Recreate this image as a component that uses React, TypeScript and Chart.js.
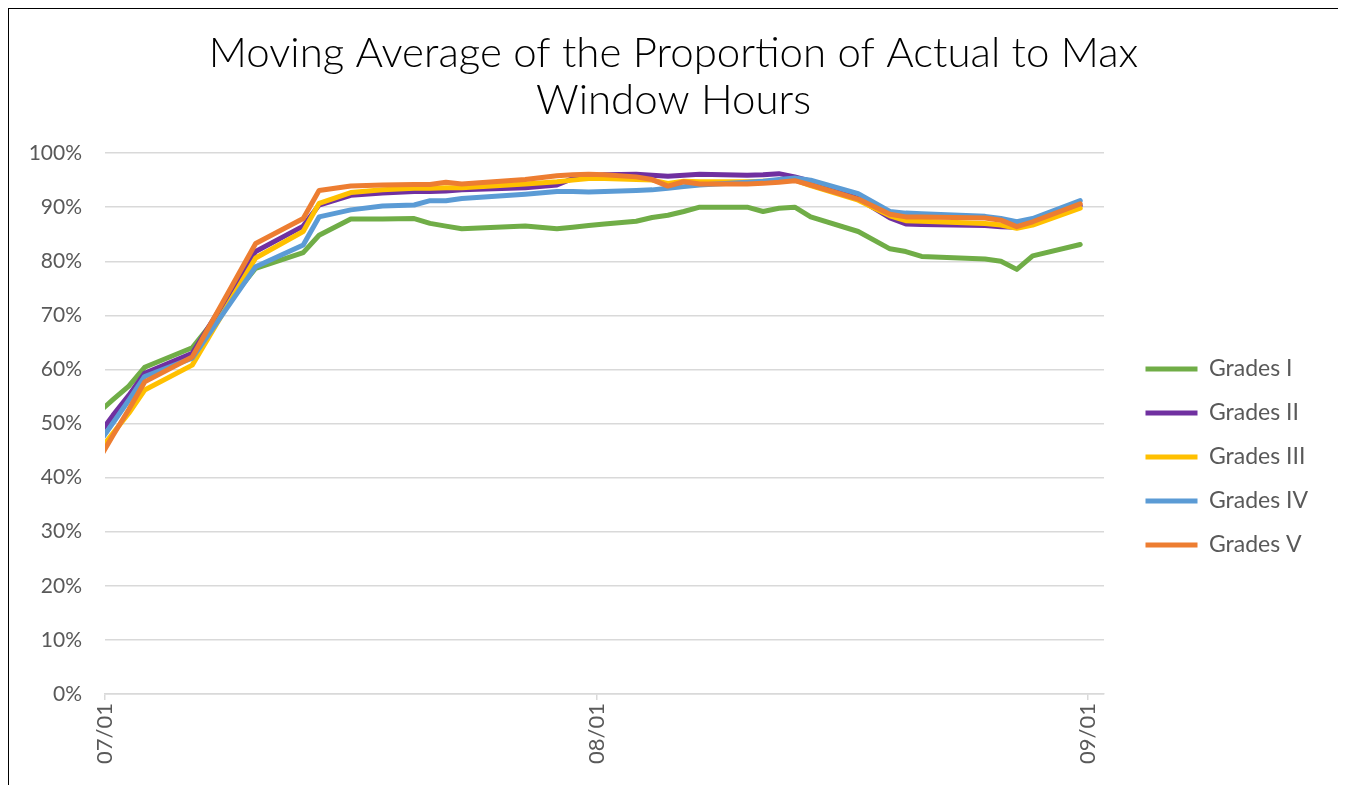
import React, { useEffect, useRef } from "react";
import { Chart, registerables } from "chart.js";

Chart.register(...registerables);

const titleLines = ["Moving Average of the Proportion of Actual to Max", "Window Hours"];
const tickLabels = ["07/01", "08/01", "09/01"];
const seriesNames = ["Grades I", "Grades II", "Grades III", "Grades IV", "Grades V"];
const seriesColors = ["#70AD47", "#7030A0", "#FFC000", "#5B9BD5", "#ED7D31"];

const dates = [
  "06/30", "07/01", "07/02", "07/03", "07/06", "07/10", "07/13", "07/14", "07/16", "07/18",
  "07/20", "07/21", "07/22", "07/23", "07/27", "07/29", "07/30", "07/31", "08/01", "08/03",
  "08/04", "08/05", "08/06", "08/07", "08/10", "08/11", "08/12", "08/13", "08/14", "08/17",
  "08/19", "08/20", "08/21", "08/25", "08/26", "08/27", "08/28", "08/31",
];

const gradesI = [
  51.8, 54.4, 56.9, 60.4, 64.0, 78.7, 81.6, 84.8, 87.8, 87.8,
  87.9, 87.0, 86.5, 86.0, 86.5, 86.0, 86.3, 86.6, 86.9, 87.4,
  88.1, 88.5, 89.2, 90.0, 90.0, 89.2, 89.8, 90.0, 88.2, 85.5,
  82.3, 81.8, 80.9, 80.4, 80.0, 78.5, 81.0, 83.1,
];
const gradesII = [
  47.5, 51.5, 55.2, 59.3, 63.0, 81.8, 86.5, 90.4, 92.2, 92.6,
  92.9, 92.9, 93.0, 93.2, 93.6, 94.1, 95.3, 95.7, 96.0, 96.1,
  95.9, 95.7, 95.9, 96.1, 95.9, 96.0, 96.2, 95.6, 94.8, 91.6,
  88.0, 86.9, 86.8, 86.6, 86.4, 86.3, 86.9, 90.3,
];
const gradesIII = [
  44.4, 48.2, 51.9, 56.2, 60.8, 80.6, 85.5, 90.7, 92.7, 93.2,
  93.5, 93.5, 93.6, 93.6, 94.3, 94.7, 95.0, 95.3, 95.3, 95.1,
  95.0, 94.4, 94.8, 94.7, 94.7, 94.8, 94.9, 95.0, 94.0, 91.3,
  88.4, 87.5, 87.4, 87.0, 86.7, 86.1, 86.7, 89.8,
];
const gradesIV = [
  45.9, 50.1, 54.3, 58.7, 62.1, 79.0, 83.0, 88.2, 89.5, 90.2,
  90.4, 91.2, 91.2, 91.6, 92.4, 92.9, 92.9, 92.8, 92.9, 93.1,
  93.2, 93.5, 93.8, 94.1, 94.6, 94.8, 95.1, 95.4, 95.0, 92.5,
  89.2, 88.9, 88.8, 88.3, 87.9, 87.3, 87.9, 91.2,
];
const gradesV = [
  42.8, 47.8, 52.6, 57.7, 62.3, 83.3, 87.9, 93.1, 93.9, 94.1,
  94.2, 94.2, 94.6, 94.3, 95.1, 95.8, 96.0, 96.1, 96.0, 95.6,
  95.1, 93.9, 94.7, 94.3, 94.3, 94.4, 94.6, 94.9, 94.1, 91.5,
  88.7, 88.2, 88.2, 88.0, 87.6, 86.4, 87.3, 90.6,
];

const seriesValues = [gradesI, gradesII, gradesIII, gradesIV, gradesV];

// day number counted from 07/01 (=0)
const monthStart: Record<number, number> = { 6: -30, 7: 0, 8: 31, 9: 62 };
function dayIndex(s: string): number {
  const [m, d] = s.split("/").map(Number);
  return monthStart[m] + d - 1;
}

const FONT = "Lato, 'Noto Sans', sans-serif";
const TEXT_GREY = "#595959";
const GRID = "#d9d9d9";

const LEGEND_WIDTH = 234;
const LEGEND_FONT = 23;
const LEGEND_PAD = 21;

const legendPlace = {
  id: "legendPlace",
  beforeUpdate(chart: any) {
    const lg = chart.legend;
    if (lg && !lg.__patched) {
      const orig = lg.fit;
      lg.fit = function () {
        orig.call(this);
        this.width = LEGEND_WIDTH;
      };
      lg.__patched = true;
    }
  },
  afterLayout(chart: any) {
    const lg = chart.legend;
    const ca = chart.chartArea;
    if (!lg || !ca) return;
    lg.left = ca.right + 41.5 - LEGEND_PAD;
    lg.right = lg.left + LEGEND_WIDTH;
    lg.top = 360 - LEGEND_FONT / 2 - LEGEND_PAD;
    lg.bottom = lg.top + 320;
  },
};

export default function App() {
  const ref = useRef<HTMLCanvasElement>(null);

  useEffect(() => {
    if (!ref.current) return;
    const datasets = seriesNames.map((name, i) => ({
      label: name,
      data: dates.map((d, j) => ({ x: dayIndex(d) + 0.5, y: seriesValues[i][j] })),
      borderColor: seriesColors[i],
      backgroundColor: seriesColors[i],
      borderWidth: 5,
      borderCapStyle: "round" as const,
      borderJoinStyle: "round" as const,
      pointRadius: 0,
      pointHoverRadius: 0,
      tension: 0,
      fill: false,
      clip: 0,
      order: seriesNames.length - i,
    }));

    const chart = new Chart(ref.current, {
      type: "line",
      data: { datasets },
      options: {
        animation: false,
        responsive: false,
        events: [],
        layout: { padding: 0 },
        plugins: {
          title: {
            display: true,
            text: titleLines,
            color: "#000000",
            font: { family: FONT, size: 42, weight: "300", lineHeight: 1.12 },
            padding: { top: 21, bottom: 29 },
          },
          legend: {
            display: true,
            position: "right",
            align: "start",
            labels: {
              usePointStyle: true,
              pointStyle: "line",
              pointStyleWidth: 52,
              color: TEXT_GREY,
              font: { family: FONT, size: LEGEND_FONT },
              padding: LEGEND_PAD,
              sort: (a: any, b: any) => a.datasetIndex - b.datasetIndex,
            },
          },
          tooltip: { enabled: false },
        },
        scales: {
          x: {
            type: "linear",
            min: 0,
            max: 63,
            afterFit: (scale: any) => {
              scale.height = 100;
            },
            afterBuildTicks: (scale: any) => {
              scale.ticks = tickLabels.map((l) => ({ value: dayIndex(l) }));
            },
            ticks: {
              autoSkip: false,
              minRotation: 90,
              maxRotation: 90,
              color: TEXT_GREY,
              font: { family: FONT, size: 22 },
              padding: 3,
              callback: (value: any) => {
                const l = tickLabels.find((t) => dayIndex(t) === value);
                return l ?? "";
              },
            },
            grid: {
              display: true,
              drawOnChartArea: false,
              drawTicks: true,
              tickLength: 6,
              color: GRID,
              lineWidth: 1.5,
            },
            border: { display: true, color: GRID, width: 1.5 },
          },
          y: {
            type: "linear",
            min: 0,
            max: 100,
            afterFit: (scale: any) => {
              scale.width = 96;
            },
            ticks: {
              stepSize: 10,
              color: TEXT_GREY,
              font: { family: FONT, size: 21 },
              padding: 23,
              callback: (v: any) => `${v}%`,
            },
            grid: {
              color: GRID,
              lineWidth: 1.5,
              drawTicks: false,
            },
            border: { display: false },
          },
        },
      },
      plugins: [legendPlace],
    });

    return () => chart.destroy();
  }, []);

  return (
    <div
      style={{
        width: 1331,
        height: 800,
        border: "1px solid #000",
        boxSizing: "border-box",
        background: "#fff",
      }}
    >
      <canvas ref={ref} width={1329} height={785} style={{ display: "block" }} />
    </div>
  );
}
